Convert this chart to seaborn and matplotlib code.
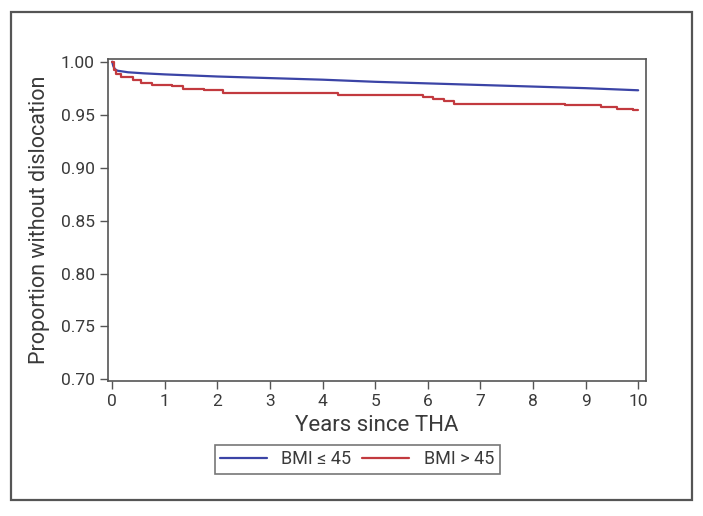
import numpy as np
import pandas as pd
import matplotlib
matplotlib.use("Agg")
import matplotlib.pyplot as plt
import seaborn as sns
from matplotlib.patches import Rectangle

# -----------------------------
# DATA
# -----------------------------
low_years = [0, 0.02, 0.05, 0.1, 0.3, 0.6, 1, 2, 3, 4, 5, 6, 7, 8, 9, 10]
low_surv = [1.0, 0.996, 0.993, 0.9915, 0.990, 0.989, 0.988, 0.986, 0.9845,
            0.983, 0.981, 0.9795, 0.978, 0.9765, 0.975, 0.973]

high_years = [0, 0.03, 0.08, 0.16, 0.4, 0.55, 0.75, 1.14, 1.35, 1.74, 2.1,
              4.3, 5.9, 6.1, 6.3, 6.5, 8.6, 9.3, 9.6, 9.9, 10.0]
high_surv = [1.0, 0.992, 0.988, 0.986, 0.983, 0.980, 0.978, 0.977, 0.974,
             0.973, 0.970, 0.969, 0.967, 0.965, 0.963, 0.960, 0.959, 0.957,
             0.955, 0.954, 0.954]

group_labels = ["BMI \u2264 45", "BMI > 45"]
y_ticks = [0.70, 0.75, 0.80, 0.85, 0.90, 0.95, 1.00]
x_ticks = list(range(0, 11))

low_df = pd.DataFrame({"years": low_years, "surv": low_surv})
high_df = pd.DataFrame({"years": high_years, "surv": high_surv})

# -----------------------------
# PLOT
# -----------------------------
sns.set_style("ticks")
plt.rcParams["font.family"] = ["Roboto", "DejaVu Sans"]
text_col = "#3a3a3a"
edge_col = "#555555"

fig = plt.figure(figsize=(7.03, 5.16), dpi=100)
ax = fig.add_axes([0.1536, 0.2616, 0.7654, 0.6240])

sns.lineplot(data=low_df, x="years", y="surv", ax=ax, color="#3b44a6",
             linewidth=1.6, label=group_labels[0])
sns.lineplot(data=high_df, x="years", y="surv", ax=ax, color="#c23a3f",
             linewidth=1.6, drawstyle="steps-post", label=group_labels[1])

ax.set_xlim(-0.08, 10.15)
ax.set_ylim(0.6985, 1.0025)
ax.set_xticks(x_ticks)
ax.set_yticks(y_ticks)
ax.set_yticklabels([f"{v:.2f}" for v in y_ticks])

ax.tick_params(direction="out", length=6, width=1, color=edge_col,
               labelsize=12.5, labelcolor=text_col)
for sp in ax.spines.values():
    sp.set_visible(True)
    sp.set_color(edge_col)
    sp.set_linewidth(1.2)

ax.set_xlabel("Years since THA", fontsize=16, color=text_col, labelpad=4)
ax.set_ylabel("Proportion without dislocation", fontsize=15.5,
              color=text_col, labelpad=8)

ax.get_legend().remove()
handles, labels = ax.get_legend_handles_labels()
leg = fig.legend(handles, labels, loc="center", ncol=2,
                 bbox_to_anchor=(0.508, 0.1095), frameon=True, fancybox=False,
                 fontsize=13, handlelength=2.6, columnspacing=0.6,
                 borderpad=0.3, handletextpad=0.8)
leg.get_frame().set_edgecolor(edge_col)
leg.get_frame().set_linewidth(1.2)
for t in leg.get_texts():
    t.set_color(text_col)

# outer border
fig.patches.append(Rectangle((0.0156, 0.031), 0.9687, 0.9457,
                             transform=fig.transFigure, fill=False,
                             edgecolor=edge_col, linewidth=1.6))

fig.savefig("out.png", dpi=100)
